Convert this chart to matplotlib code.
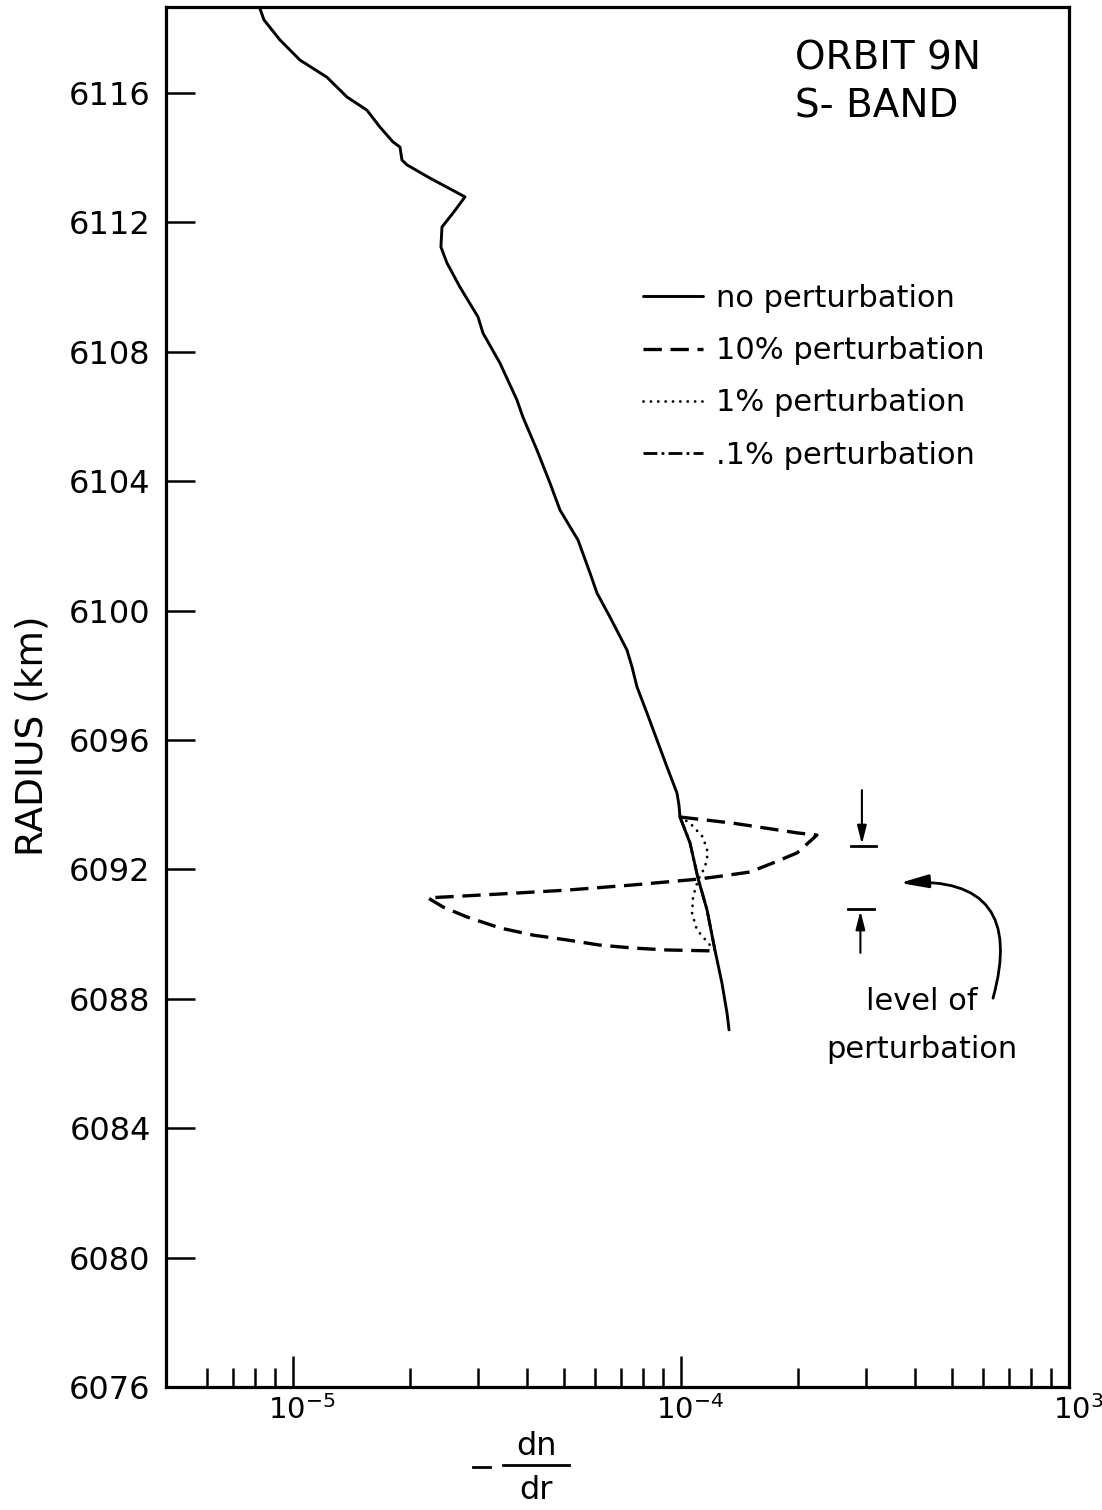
import matplotlib
matplotlib.use("Agg")
import matplotlib.pyplot as plt
import matplotlib.transforms as mtransforms
from matplotlib.lines import Line2D
from matplotlib.patches import FancyArrowPatch
from matplotlib.ticker import FixedLocator, FixedFormatter, NullFormatter

plt.rcParams['font.family'] = ['DejaVu Sans']

# Unperturbed refractivity-gradient profile: -dn/dr versus radius (km)
dndr_base = [8.17e-6, 8.42e-6, 9.26e-6, 1.042e-5, 1.223e-5, 1.377e-5, 1.551e-5,
             1.675e-5, 1.810e-5, 1.887e-5, 1.909e-5, 1.967e-5, 2.254e-5, 2.493e-5,
             2.775e-5, 2.585e-5, 2.421e-5, 2.406e-5, 2.493e-5, 2.694e-5, 2.998e-5,
             3.088e-5, 3.416e-5, 3.778e-5, 3.915e-5, 4.255e-5, 4.597e-5, 4.877e-5,
             5.428e-5, 5.829e-5, 6.076e-5, 6.562e-5, 7.259e-5, 7.478e-5, 7.703e-5,
             8.175e-5, 8.672e-5, 9.202e-5, 9.765e-5, 9.88e-5, 9.94e-5, 1.055e-4,
             1.106e-4, 1.167e-4, 1.223e-4, 1.275e-4, 1.314e-4, 1.330e-4]
radius_base = [6118.7, 6118.26, 6117.64, 6117.02, 6116.49, 6115.88, 6115.47,
               6114.95, 6114.49, 6114.33, 6113.93, 6113.78, 6113.37, 6113.09,
               6112.79, 6112.29, 6111.86, 6111.24, 6110.75, 6110.00, 6109.08,
               6108.58, 6107.65, 6106.51, 6105.98, 6104.96, 6103.94, 6103.11,
               6102.18, 6101.16, 6100.54, 6099.80, 6098.78, 6098.26, 6097.64,
               6096.83, 6096.00, 6095.17, 6094.36, 6093.99, 6093.62, 6092.82,
               6091.73, 6090.75, 6089.51, 6088.49, 6087.56, 6087.04]

# 10% perturbation
dndr_p10 = [9.94e-5, 1.361e-4, 1.991e-4, 2.240e-4, 1.991e-4, 1.726e-4, 1.506e-4,
            1.283e-4, 1.106e-4, 7.52e-5, 5.08e-5, 3.416e-5, 2.228e-5, 2.435e-5,
            2.808e-5, 3.416e-5, 4.155e-5, 5.08e-5, 6.18e-5, 7.52e-5, 9.20e-5,
            1.223e-4]
radius_p10 = [6093.62, 6093.43, 6093.13, 6093.06, 6092.51, 6092.20, 6091.92,
              6091.80, 6091.70, 6091.52, 6091.36, 6091.24, 6091.12, 6090.84,
              6090.53, 6090.19, 6089.97, 6089.82, 6089.66, 6089.57, 6089.51,
              6089.48]

# 1% perturbation
dndr_p1 = [9.94e-5, 1.055e-4, 1.139e-4, 1.174e-4, 1.153e-4, 1.106e-4, 1.074e-4,
           1.068e-4, 1.099e-4, 1.188e-4, 1.223e-4]
radius_p1 = [6093.62, 6093.43, 6093.00, 6092.51, 6092.07, 6091.67, 6091.15,
             6090.65, 6090.13, 6089.66, 6089.51]

# 0.1% perturbation (indistinguishable from the unperturbed profile)
dndr_p01 = [9.94e-5, 1.055e-4, 1.106e-4, 1.167e-4, 1.223e-4]
radius_p01 = [6093.62, 6092.82, 6091.73, 6090.75, 6089.51]

# Perturbed layer boundaries (km)
level_top = 6092.72
level_bottom = 6090.78

radius_ticks = list(range(6076, 6117, 4))
x_major = [1e-5, 1e-4, 1e-3]
x_major_labels = [r'10$^{-5}$', r'10$^{-4}$', r'10$^{3}$']
x_minor = ([m * 1e-6 for m in range(6, 10)] + [m * 1e-5 for m in range(2, 10)]
           + [m * 1e-4 for m in range(2, 10)])
series_labels = ['no perturbation', '10% perturbation', '1% perturbation',
                 '.1% perturbation']

W, H = 1102, 1510
fig = plt.figure(figsize=(W / 100, H / 100), dpi=100)
L, R, B, T = 166, 1069, 1387, 7
ax = fig.add_axes([L / W, 1 - B / H, (R - L) / W, (B - T) / H])

ax.set_xscale('log')
ax.set_xlim(4.707e-6, 1e-3)
ax.set_ylim(6076, 6118.66)

p01, = ax.plot(dndr_p01, radius_p01, color='k', lw=2.0, dashes=(5, 1.5, 1, 1.5))
p10, = ax.plot(dndr_p10, radius_p10, color='k', lw=2.4, dashes=(5.5, 2.6))
p1, = ax.plot(dndr_p1, radius_p1, color='k', lw=2.0, dashes=(0.05, 2.6),
              dash_capstyle='round')
base, = ax.plot(dndr_base, radius_base, color='k', lw=2.1,
                solid_joinstyle='round', solid_capstyle='round')

# Axis styling
for s in ax.spines.values():
    s.set_linewidth(2.3)
ax.xaxis.set_major_locator(FixedLocator(x_major))
ax.xaxis.set_major_formatter(FixedFormatter(x_major_labels))
ax.xaxis.set_minor_locator(FixedLocator(x_minor))
ax.xaxis.set_minor_formatter(NullFormatter())
ax.set_yticks(radius_ticks)
ax.set_yticklabels([str(v) for v in radius_ticks])
ax.tick_params(axis='x', which='major', direction='in', length=22, width=1.8,
               labelsize=21, pad=6, top=False)
ax.tick_params(axis='x', which='minor', direction='in', length=14, width=1.8, top=False)
ax.tick_params(axis='y', which='major', direction='in', length=21, width=1.8,
               labelsize=23, pad=11, right=False)
shift = mtransforms.ScaledTranslation(9 / 100, 0, fig.dpi_scale_trans)
for lab in ax.get_xticklabels():
    lab.set_transform(lab.get_transform() + shift)

ax.set_ylabel('RADIUS (km)', fontsize=27)
ax.yaxis.set_label_coords((50 - L) / (R - L), (B - 736) / (B - T))

# x-axis label: - dn/dr
fig.add_artist(Line2D([473 / W, 490 / W], [1 - 1467 / H] * 2, color='k', lw=2.0,
                      transform=fig.transFigure))
fig.text(536 / W, 1 - 1455 / H, 'dn', fontsize=23, ha='center', va='baseline')
fig.text(536 / W, 1 - 1499 / H, 'dr', fontsize=23, ha='center', va='baseline')
fig.add_artist(Line2D([503 / W, 569 / W], [1 - 1465 / H] * 2, color='k', lw=2.0,
                      transform=fig.transFigure))

# Title
ax.text((795 - L) / (R - L), (B - 70) / (B - T), 'ORBIT 9N', fontsize=28,
        transform=ax.transAxes, ha='left', va='baseline')
ax.text((795 - L) / (R - L), (B - 118) / (B - T), 'S- BAND', fontsize=28,
        transform=ax.transAxes, ha='left', va='baseline')

# Legend
ax.legend([base, p10, p1, p01], series_labels, loc='upper left',
          bbox_to_anchor=((643 - L) / (R - L), (B - 284) / (B - T)),
          frameon=False, fontsize=22, handlelength=1.95, handletextpad=0.45,
          labelspacing=0.76, borderpad=0, borderaxespad=0)

# Level of perturbation markers
x_mark = 2.926e-4
ax.plot([2.742e-4, 3.18e-4], [level_top] * 2, color='k', lw=2.0)
ax.plot([2.70e-4, 3.14e-4], [level_bottom] * 2, color='k', lw=2.0)
ax.annotate('', xy=(x_mark, level_top + 0.06), xytext=(x_mark, 6094.45),
            arrowprops=dict(arrowstyle='-|>,head_length=1.1,head_width=0.28',
                            lw=1.5, color='k', shrinkA=0, shrinkB=0))
ax.annotate('', xy=(2.90e-4, level_bottom - 0.06), xytext=(2.90e-4, 6089.42),
            arrowprops=dict(arrowstyle='-|>,head_length=1.1,head_width=0.28',
                            lw=1.5, color='k', shrinkA=0, shrinkB=0))
ax.add_patch(FancyArrowPatch((6.37e-4, 6088.02), (3.667e-4, 6091.58),
                             connectionstyle='arc3,rad=0.7',
                             arrowstyle='-|>,head_length=1.7,head_width=0.4',
                             mutation_scale=10, lw=2.0, color='k',
                             shrinkA=0, shrinkB=0))
ax.text(4.18e-4, 6087.65, 'level of', fontsize=22, ha='center', va='baseline')
ax.text(4.18e-4, 6086.17, 'perturbation', fontsize=22, ha='center', va='baseline')

fig.savefig('out.png', dpi=100)
